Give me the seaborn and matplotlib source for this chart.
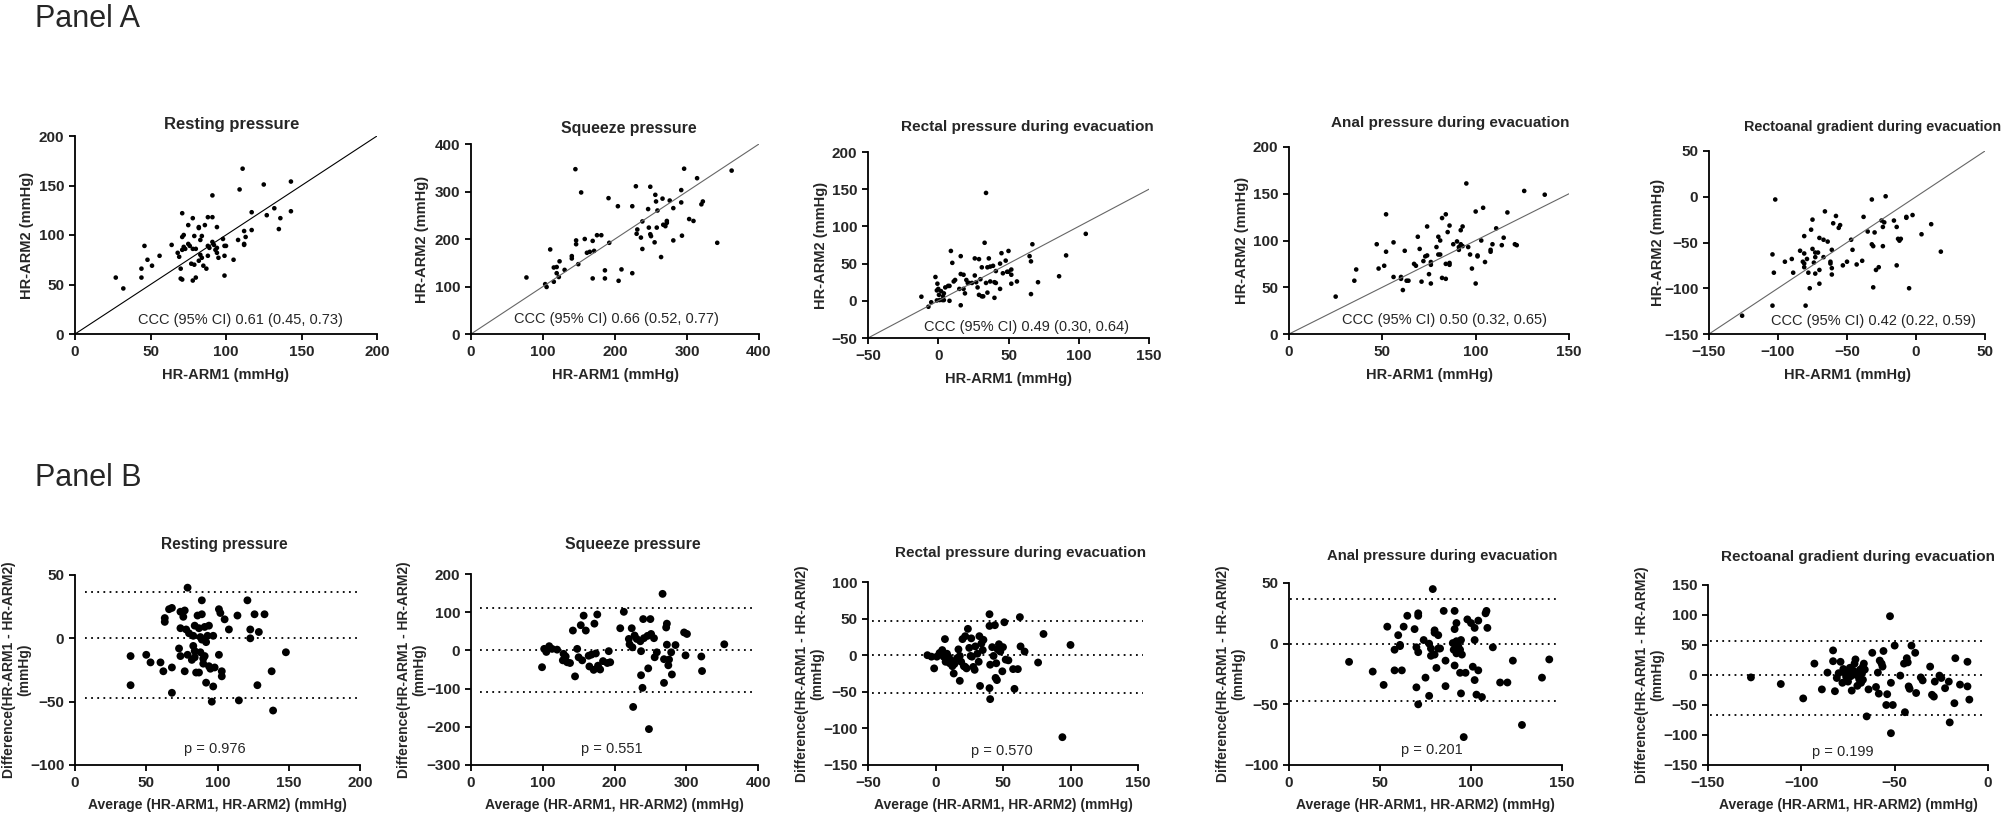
import numpy as np
import pandas as pd
import matplotlib.pyplot as plt
import seaborn as sns

# ---- data ----
titles = ["Resting pressure", "Squeeze pressure", "Rectal pressure during evacuation",
          "Anal pressure during evacuation", "Rectoanal gradient during evacuation"]

ccc_labels = ["CCC (95% CI) 0.61 (0.45, 0.73)", "CCC (95% CI) 0.66 (0.52, 0.77)",
              "CCC (95% CI) 0.49 (0.30, 0.64)", "CCC (95% CI) 0.50 (0.32, 0.65)",
              "CCC (95% CI) 0.42 (0.22, 0.59)"]
p_labels = ["p = 0.976", "p = 0.551", "p = 0.570", "p = 0.201", "p = 0.199"]

# limits of agreement (Panel B dotted lines)
loa_upper = [36.8, 110, 47.2, 36.8, 56.7]
loa_bias = [0, 0, 0, 0, 0]
loa_lower = [-47.4, -109, -51.4, -47.6, -67.3]

# Panel A: (HR-ARM1, HR-ARM2)
resting_corr = [(27, 57), (32, 46), (44, 66), (44, 57), (46, 89), (48, 75), (51, 69), (56, 79), (64, 90), (68, 82),
                (69, 78), (70, 66), (71, 122), (71, 98), (70, 56), (71, 55), (72, 100), (72, 88), (71, 85), (73, 86),
                (75, 110), (75, 91), (76, 89), (77, 71), (78, 117), (79, 70), (79, 99), (78, 86), (78, 54), (80, 86),
                (80, 57), (82, 108), (82, 107), (82, 74), (83, 95), (84, 99), (83, 80), (84, 77), (85, 69), (86, 110),
                (87, 66), (88, 118), (88, 79), (88, 89), (89, 87), (91, 93), (91, 118), (91, 140), (92, 90), (93, 85),
                (94, 82), (94, 87), (94, 108), (95, 77), (98, 96), (99, 59), (99, 79), (99, 89), (100, 89), (105, 75),
                (108, 95), (111, 167), (109, 146), (112, 104), (112, 91), (113, 98), (112, 90), (117, 123), (117, 105),
                (125, 151), (127, 120), (132, 127), (135, 106), (136, 117), (143, 154), (143, 124)]
squeeze_corr = [(77, 119), (103, 105), (105, 99), (110, 178), (115, 140), (115, 110), (122, 120), (123, 153), (119, 141),
                (130, 135), (119, 128), (145, 347), (146, 197), (146, 189), (140, 164), (140, 159), (149, 147), (153, 298),
                (158, 200), (161, 171), (165, 173), (169, 196), (169, 117), (171, 175), (175, 208), (181, 208), (186, 117),
                (186, 134), (191, 286), (192, 192), (204, 269), (205, 112), (209, 136), (224, 269), (224, 128), (229, 311),
                (230, 211), (231, 220), (236, 203), (238, 237), (238, 179), (246, 263), (247, 224), (249, 210), (249, 310),
                (250, 206), (255, 193), (256, 293), (257, 279), (258, 224), (259, 260), (264, 162), (266, 285), (267, 230),
                (270, 227), (272, 234), (272, 238), (276, 281), (281, 265), (281, 197), (292, 277), (292, 303), (293, 207),
                (296, 348), (303, 242), (309, 238), (314, 328), (320, 273), (322, 279), (342, 192), (362, 344)]
rectal_corr = [(-12, 5.5), (-7, -8), (-5, -2), (-2, 32), (-1, 14), (-0.6, 23), (-1, 0.5), (0, 16), (0.5, 8), (1, 1),
               (2, 13), (3, 1), (3.4, 6), (4, 10), (4, 1), (5, 18), (7, 20), (8, 0), (8, 20), (9, 67), (10, 51), (11, 26),
               (12, 28), (15, 16), (16, 60), (16, 36), (16, -6), (18, 35), (18, 16), (19, 10), (20, 28), (21, 24),
               (22, 24), (24, 24), (26, 57), (26, 34), (27, 25), (28, 18), (29, 56), (29, 8), (30, 29), (31, 6),
               (31, 45), (32, 6), (33, 78), (34, 145), (35, 45), (35, 11), (34, 24), (36, 57), (37, 46), (37, 26),
               (39, 47), (40, 4), (40, 25), (41, 40), (41, 24), (44, 16), (44, 50), (45, 64), (46, 37), (48, 54),
               (49, 39), (50, 67), (50, 39), (52, 35), (52, 42), (52, 23), (56, 26), (65, 60), (66, 53), (66, 9),
               (67, 76), (71, 25), (86, 33), (91, 61), (105, 90)]
anal_corr = [(25, 40), (35, 57), (36, 69), (47, 96), (48, 70), (51, 73), (52, 128), (52, 88), (56, 98), (56, 61),
             (60, 59), (60, 61), (61, 47), (62, 89), (63, 57), (64, 57), (67, 75), (68, 73), (69, 104), (70, 91),
             (71, 56), (72, 78), (73, 83), (74, 84), (74, 115), (75, 64), (76, 74), (76, 54), (76, 77), (79, 93),
             (80, 85), (80, 104), (81, 85), (81, 100), (82, 124), (82, 60), (84, 128), (84, 75), (84, 59), (85, 109),
             (86, 74), (86, 76), (86, 116), (88, 96), (90, 99), (91, 90), (91, 93), (92, 111), (92, 96), (93, 115),
             (93, 94), (95, 161), (96, 93), (97, 85), (98, 70), (100, 54), (100, 131), (101, 84), (101, 83), (103, 100),
             (104, 135), (105, 77), (108, 88), (108, 90), (109, 96), (111, 113), (114, 95), (115, 103), (117, 130),
             (121, 96), (122, 95), (126, 153), (137, 149)]
gradient_corr = [(-126, -130), (-104, -119), (-104, -63), (-103, -83), (-102, -3), (-95, -71), (-90, -68), (-89, -83),
                 (-84, -59), (-82, -71), (-81, -73), (-81, -77), (-81, -43), (-81, -62), (-80, -119), (-79, -68),
                 (-78, -83), (-77, -100), (-76, -36), (-75, -57), (-75, -25), (-74, -72), (-73, -66), (-73, -61),
                 (-73, -84), (-71, -61), (-70, -80), (-70, -45), (-70, -95), (-67, -47), (-67, -66), (-66, -16),
                 (-64, -49), (-62, -71), (-62, -73), (-61, -78), (-61, -85), (-61, -58), (-60, -29), (-58, -21),
                 (-56, -34), (-55, -31), (-53, -75), (-50, -71), (-47, -47), (-46, -58), (-43, -74), (-39, -70),
                 (-38, -22), (-35, -38), (-32, -3), (-32, -52), (-31, -99), (-31, -54), (-30, -39), (-29, -80),
                 (-27, -77), (-25, -26), (-24, -33), (-24, -54), (-23, -28), (-22, 0.5), (-16, -26), (-14, -33),
                 (-14, -75), (-13, -46), (-12, -48), (-11, -46), (-7, -23), (-7, -22), (-5, -100), (-2.5, -20),
                 (4, -41), (11, -30), (18, -60)]

# Panel B: (average, difference)
resting_ba = [(39, -14), (39, -37), (50, -13), (53, -19), (60, -19), (62, -26), (63, 16), (63, 13), (66, 23), (68, -23),
              (68, 24), (68, -43), (74, 21), (74, 8), (73, -8), (74, -14), (76, 17), (77, 22), (77, -26), (78, 7),
              (79, 40), (79, -13), (80, 4), (82, -17), (83, -6), (83, 2), (84, -10), (84, 10), (84, -15), (85, -27),
              (86, 18), (87, -27), (87, 8), (88, 1), (88, -11), (89, 19), (89, 30), (89, -1), (90, -20), (90, -16),
              (91, 9), (91, -14), (92, -3), (92, -35), (93, 2), (94, 10), (94, -22), (95, -24), (96, -50), (97, -38),
              (97, 2), (98, -23), (101, -13), (101, 23), (102, 20), (103, -30), (103, -26), (105, 15), (108, 7),
              (114, 18), (115, -49), (121, 30), (123, 0), (123, 7), (126, 19), (128, -37), (129, 5), (133, 19),
              (138, -26), (139, -57), (148, -11)]
squeeze_ba = [(99, -44), (102, 4), (105, -4), (109, 11), (113, 4), (120, 2), (128, -26), (129, -9), (132, -16),
              (134, -31), (138, -33), (142, 52), (145, -68), (148, 4), (150, -18), (153, 66), (155, -26), (157, 91),
              (160, 52), (164, -14), (165, -42), (168, -11), (171, -51), (172, 70), (174, -8), (176, 94), (177, -40),
              (180, -50), (184, -28), (190, -33), (192, -2), (194, -31), (208, 58), (213, 101), (220, 30), (221, 16),
              (224, 58), (225, 8), (226, -148), (228, 39), (231, 30), (236, 24), (237, -2), (237, -65), (239, -98),
              (240, 82), (241, 32), (246, 38), (247, -47), (248, -206), (250, 82), (251, 43), (255, 32), (256, -18),
              (259, -5), (267, 148), (269, -23), (269, -85), (272, 60), (273, 70), (273, 15), (275, -39), (276, -24),
              (279, -5), (280, -63), (285, 14), (297, 47), (299, -13), (301, 43), (321, -16), (322, -54), (353, 16)]
rectal_ba = [(-6, 0), (-3, -2), (-1, -18), (1, -2), (3, 3), (5, 7), (6, -2), (7, 22), (7.5, -9), (8.5, 2), (9.5, -2),
             (10.5, -11), (11, -6), (12.5, -15), (13.5, -25), (14, -12), (16, -4), (17, 8), (18, -35), (18, -1),
             (19, -9), (20, 22), (21, -15), (22, -16), (22, 26), (23, -18), (24, 36), (25, 10), (26, -1), (26.5, 23),
             (27, -2), (28, -16), (29, -20), (29.5, 12), (31, 2), (32, -9), (32.5, 26), (33, -42), (34, 16), (35, 7),
             (35.5, 21), (40, 40), (40, 56), (40, -45), (40.5, -60), (40.5, -13), (42, 11), (43, -1), (44, 41),
             (44.5, -31), (45, -11), (45.5, -34), (46, 8), (47, 15), (48, 5), (49.5, -22), (50, 11), (51, 45),
             (52, -6), (54, -7), (57.5, -19), (58.5, -46), (61, -19), (62.5, 52), (63, 12), (66, 5), (76, -10),
             (80, 29), (94, -112), (100, 14)]
anal_ba = [(33, -15), (46, -23), (52, -34), (54, 14), (58, -22), (58, -5), (60, 7), (61, -1), (61, -2), (62, -22),
           (63, 14), (65, 23), (69, 12), (70, -3), (70, -36), (71, -7), (71, 23), (71, 25), (71, -50), (74, 3),
           (75, -28), (77, 0), (77, -43), (78, -4), (78, -10), (79, 45), (80, 9), (80, -9), (80, 11), (81, -20),
           (82, 7), (82, -4), (83, -4), (85, 27), (86, -14), (86, -35), (90, 0.5), (90.5, -5), (91, 27), (91, 12),
           (91, -18), (92, 2), (92, -8), (92, 17), (92.5, -1), (93, -2), (94, -24), (94, -5), (94.5, 3), (94.5, -41),
           (95, -9), (96, -77), (97, -24), (98, 20), (100, 17), (101, -19), (102, -30), (102, 3), (102, 13),
           (103, -42), (104, 19), (104, -22), (106, -44), (108, 25), (108.5, 27), (109, 13), (112, -3), (116, -32),
           (120, -32), (123, -14), (128, -67), (139, -28), (143, -13)]
gradient_ba = [(-127, -4), (-111, -15), (-99, -39), (-93, 19), (-89, -24), (-86, 4), (-83, 41), (-83, 23), (-82, -27),
               (-81, -5), (-80, 3), (-79, 22), (-78, -13), (-77.5, 10), (-76.5, 3), (-76, -3), (-75, -11), (-75, 4),
               (-74, 12), (-73.5, -2), (-73, -26), (-72, 7), (-71.5, 19), (-71, 26), (-70.5, 0), (-70, -18),
               (-69, -7), (-68.5, 9), (-68, -13), (-67.5, 3), (-67, 14), (-67, -8), (-66.5, 19), (-66, 9), (-65, -69),
               (-64, -24), (-62, 37), (-60, -20), (-59, 4), (-58.5, -31), (-58, 24), (-57, 19), (-56.5, 14), (-56, 40),
               (-54.5, -50), (-54, -32), (-52.5, 98), (-52, -13), (-52, -97), (-51, -50), (-50, 49), (-47, -1),
               (-45, 19), (-44.5, -62), (-43.5, 28), (-43, 21), (-42.5, -19), (-42, -23), (-41, 49), (-39, 37),
               (-38.5, -30), (-36, -4), (-35, -9), (-31, 14), (-30, -33), (-29, -36), (-28.5, -11), (-26, -1),
               (-25, -5), (-23, -22), (-21, -11), (-20.5, -79), (-17.5, 28), (-18, -47), (-15, -16), (-11, -19),
               (-11, 22), (-10, -41)]

corr_sets = [resting_corr, squeeze_corr, rectal_corr, anal_corr, gradient_corr]
ba_sets = [resting_ba, squeeze_ba, rectal_ba, anal_ba, gradient_ba]

# axis ranges (min, max, step)
a_xrange = [(0, 200, 50), (0, 400, 100), (-50, 150, 50), (0, 150, 50), (-150, 50, 50)]
a_yrange = [(0, 200, 50), (0, 400, 100), (-50, 200, 50), (0, 200, 50), (-150, 50, 50)]
b_xrange = [(0, 200, 50), (0, 400, 100), (-50, 150, 50), (0, 150, 50), (-150, 0, 50)]
b_yrange = [(-100, 50, 50), (-300, 200, 100), (-150, 100, 50), (-100, 50, 50), (-150, 150, 50)]

# ---- layout (pixels of the 2014x815 canvas) ----
W, H = 2014, 815
a_boxes = [(75, 136, 377, 334), (471, 144, 759, 334), (868, 152, 1149, 338), (1289, 147, 1569, 334), (1709, 151, 1985, 334)]
b_boxes = [(75, 575, 360, 765), (471, 574, 758, 765), (868, 582, 1138, 765), (1289, 583, 1562, 765), (1708, 585, 1988, 765)]
a_title_xy = [(232, 125), (629, 128), (1027, 127), (1450, 123), (1873, 127)]
b_title_xy = [(224, 545), (633, 545), (1021, 553), (1442, 556), (1858, 557)]
a_title_size = [12, 11.4, 11.1, 11, 10.4]
b_title_size = [11.2, 11.4, 11, 10.7, 11]
a_ylabel_off = [48, 49, 47, 47, 51]
b_ylabel_off = [58, 59, 58, 58, 58]
ccc_xy = [(240, 320), (616, 319), (1026, 327), (1445, 320), (1873, 321)]
p_xy = [(215, 749), (612, 749), (1002, 751), (1432, 750), (1843, 752)]
loa_span = [(0.035, 0.989), (0.032, 0.985), (0.016, 1.019), (0.005, 0.988), (0.006, 0.984)]
diag_colors = ['black', '#666666', '#666666', '#666666', '#666666']

sns.set_style('ticks')
plt.rcParams['font.family'] = ['Liberation Sans', 'DejaVu Sans']


def px_box(l, t, r, b):
    return [l / W, 1 - b / H, (r - l) / W, (b - t) / H]


def fig_xy(x, y):
    return x / W, 1 - y / H


def style_axes(ax, xr, yr):
    ax.set_xlim(xr[0], xr[1])
    ax.set_ylim(yr[0], yr[1])
    ax.set_xticks(np.arange(xr[0], xr[1] + 1, xr[2]))
    ax.set_yticks(np.arange(yr[0], yr[1] + 1, yr[2]))
    sns.despine(ax=ax)
    for side in ['left', 'bottom']:
        ax.spines[side].set_linewidth(1.3)
        ax.spines[side].set_color('black')
    ax.tick_params(length=4.5, width=1.3, color='black', labelsize=11, pad=3.2)
    for lbl in ax.get_xticklabels() + ax.get_yticklabels():
        lbl.set_fontweight('bold')
    ax.grid(False)


fig = plt.figure(figsize=(W / 100, H / 100), dpi=100)

fig.text(*fig_xy(35, 27), 'Panel A', fontsize=22, va='baseline', ha='left')
fig.text(*fig_xy(35, 486), 'Panel B', fontsize=22, va='baseline', ha='left')

# Panel A: agreement scatter with line of identity
for i in range(5):
    box = a_boxes[i]
    ax = fig.add_axes(px_box(*box))
    df = pd.DataFrame(corr_sets[i], columns=['HR-ARM1', 'HR-ARM2'])
    sns.scatterplot(data=df, x='HR-ARM1', y='HR-ARM2', ax=ax, color='black', s=11,
                    edgecolor='none', linewidth=0)
    lo, hi = a_xrange[i][0], a_xrange[i][1]
    ax.plot([lo, hi], [lo, hi], color=diag_colors[i], lw=0.8)
    style_axes(ax, a_xrange[i], a_yrange[i])
    ax.set_xlabel('HR-ARM1 (mmHg)', fontsize=10.5, fontweight='bold')
    ax.set_ylabel('HR-ARM2 (mmHg)', fontsize=10.5, fontweight='bold')
    ax.xaxis.label.set_va('center')
    ax.yaxis.label.set_va('center')
    ax.xaxis.set_label_coords(0.5, -41 / (box[3] - box[1]))
    ax.yaxis.set_label_coords(-a_ylabel_off[i] / (box[2] - box[0]), 0.5)
    fig.text(*fig_xy(*a_title_xy[i]), titles[i], ha='center', va='center',
             fontsize=a_title_size[i], fontweight='bold')
    fig.text(*fig_xy(*ccc_xy[i]), ccc_labels[i], ha='center', va='center', fontsize=10.5)

# Panel B: Bland-Altman plots
for i in range(5):
    box = b_boxes[i]
    ax = fig.add_axes(px_box(*box))
    df = pd.DataFrame(ba_sets[i], columns=['Average', 'Difference'])
    sns.scatterplot(data=df, x='Average', y='Difference', ax=ax, color='black', s=32,
                    edgecolor='none', linewidth=0)
    x0, x1 = loa_span[i]
    for level in [loa_upper[i], loa_bias[i], loa_lower[i]]:
        ax.axhline(level, xmin=x0, xmax=x1, color='black', lw=1.3,
                   linestyle=(0, (1, 2.4)), clip_on=False)
    style_axes(ax, b_xrange[i], b_yrange[i])
    ax.set_xlabel('Average (HR-ARM1, HR-ARM2) (mmHg)', fontsize=10, fontweight='bold')
    ax.set_ylabel('Difference(HR-ARM1 - HR-ARM2)\n(mmHg)', fontsize=10, fontweight='bold',
                  linespacing=1.1)
    ax.xaxis.label.set_va('center')
    ax.yaxis.label.set_va('center')
    ax.xaxis.set_label_coords(0.5, -40 / (box[3] - box[1]))
    ax.yaxis.set_label_coords(-b_ylabel_off[i] / (box[2] - box[0]), 0.5)
    fig.text(*fig_xy(*b_title_xy[i]), titles[i], ha='center', va='center',
             fontsize=b_title_size[i], fontweight='bold')
    fig.text(*fig_xy(*p_xy[i]), p_labels[i], ha='center', va='center', fontsize=10.5)

fig.savefig('out.png', dpi=100)
